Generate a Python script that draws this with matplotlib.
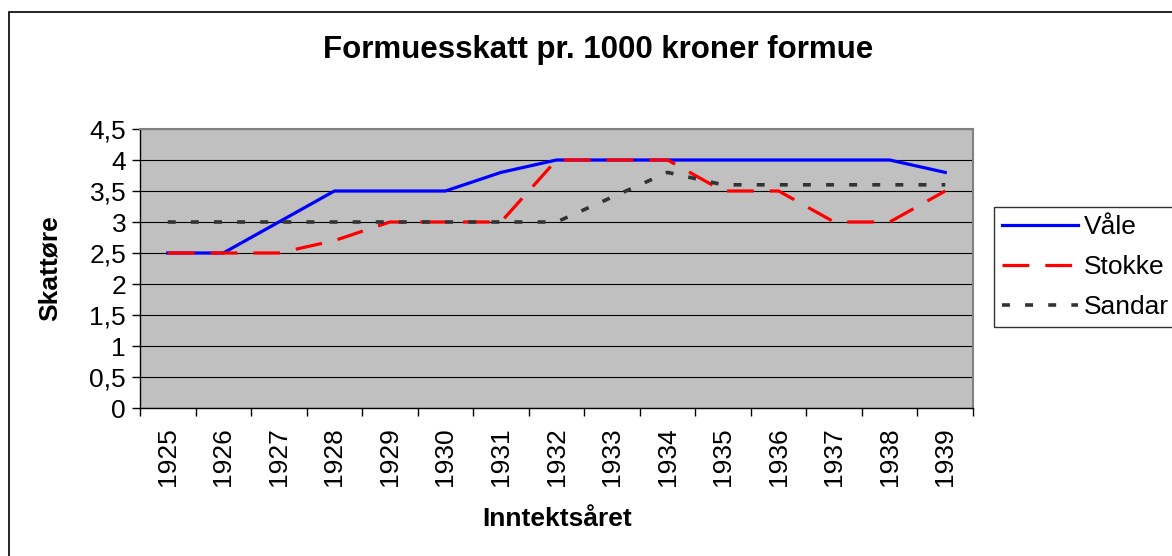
import matplotlib.pyplot as plt
from matplotlib.patches import Rectangle
import numpy as np

plt.rcParams['font.family'] = ['Liberation Sans', 'DejaVu Sans']

years = ['1925', '1926', '1927', '1928', '1929', '1930', '1931', '1932',
         '1933', '1934', '1935', '1936', '1937', '1938', '1939']
vale = [2.5, 2.5, 3.0, 3.5, 3.5, 3.5, 3.8, 4.0, 4.0, 4.0, 4.0, 4.0, 4.0, 4.0, 3.8]
stokke = [2.5, 2.5, 2.5, 2.7, 3.0, 3.0, 3.0, 4.0, 4.0, 4.0, 3.5, 3.5, 3.0, 3.0, 3.5]
sandar = [3.0, 3.0, 3.0, 3.0, 3.0, 3.0, 3.0, 3.0, 3.4, 3.8, 3.6, 3.6, 3.6, 3.6, 3.6]
yticks = [0, 0.5, 1, 1.5, 2, 2.5, 3, 3.5, 4, 4.5]
ytick_labels = ['0', '0,5', '1', '1,5', '2', '2,5', '3', '3,5', '4', '4,5']

W, H = 1172, 556
fig = plt.figure(figsize=(W / 100, H / 100), dpi=100)

# ramme rundt diagrammet (kuttet til høyre og nederst som i originalen)
fig.patches.append(Rectangle((9 / W, -0.1), 1.2, (H - 12) / H + 0.1,
                             transform=fig.transFigure, fill=False,
                             edgecolor='black', linewidth=1.2))

ax = fig.add_axes([140 / W, (H - 408) / H, 833 / W, 279 / H])
ax.set_facecolor('#c0c0c0')

x = np.arange(len(years))
ax.plot(x, vale, color='#0000ff', lw=2.3, label='Våle', zorder=3)
ax.plot(x, stokke, color='#ff0000', lw=2.3, dashes=(8.4, 5), label='Stokke', zorder=3)
ax.plot(x, sandar, color='#333333', lw=2.6, dashes=(2.2, 4.2), label='Sandar', zorder=3)

ax.set_xlim(-0.5, len(years) - 0.5)
ax.set_ylim(0, 4.5)
ax.set_yticks(yticks)
ax.set_yticklabels(ytick_labels, fontsize=19)
ax.yaxis.grid(True, color='black', lw=0.8)
ax.set_axisbelow(True)

ax.set_xticks(x)
ax.set_xticklabels(years, rotation=90, fontsize=19)
ax.set_xticks(np.arange(len(years) + 1) - 0.5, minor=True)
ax.tick_params(axis='x', which='major', length=0, pad=14)
ax.tick_params(axis='x', which='minor', length=6, color='black', width=1)
ax.tick_params(axis='y', length=6, color='black', width=1, pad=4)

for side in ['top', 'right']:
    ax.spines[side].set_color('#808080')
    ax.spines[side].set_linewidth(1.5)
for side in ['left', 'bottom']:
    ax.spines[side].set_color('black')
    ax.spines[side].set_linewidth(1)

fig.text(557 / W, 1 - 519 / H, 'Inntektsåret', fontsize=19, fontweight='bold',
         ha='center', va='center')
fig.text(50 / W, 1 - 268 / H, 'Skattøre', fontsize=19, fontweight='bold',
         ha='center', va='center', rotation=90)
fig.text(598 / W, 1 - 50 / H, 'Formuesskatt pr. 1000 kroner formue',
         fontsize=22.5, fontweight='bold', ha='center', va='center')

leg = ax.legend(loc='upper left', bbox_to_anchor=(994 / W, 1 - 207 / H),
                bbox_transform=fig.transFigure, fontsize=19, frameon=True,
                fancybox=False, edgecolor='black', handlelength=2.9,
                handletextpad=0.19, borderpad=0.3, labelspacing=0.61,
                borderaxespad=0, handleheight=0.7)
leg.get_frame().set_linewidth(1)

fig.savefig('out.png', dpi=100)
